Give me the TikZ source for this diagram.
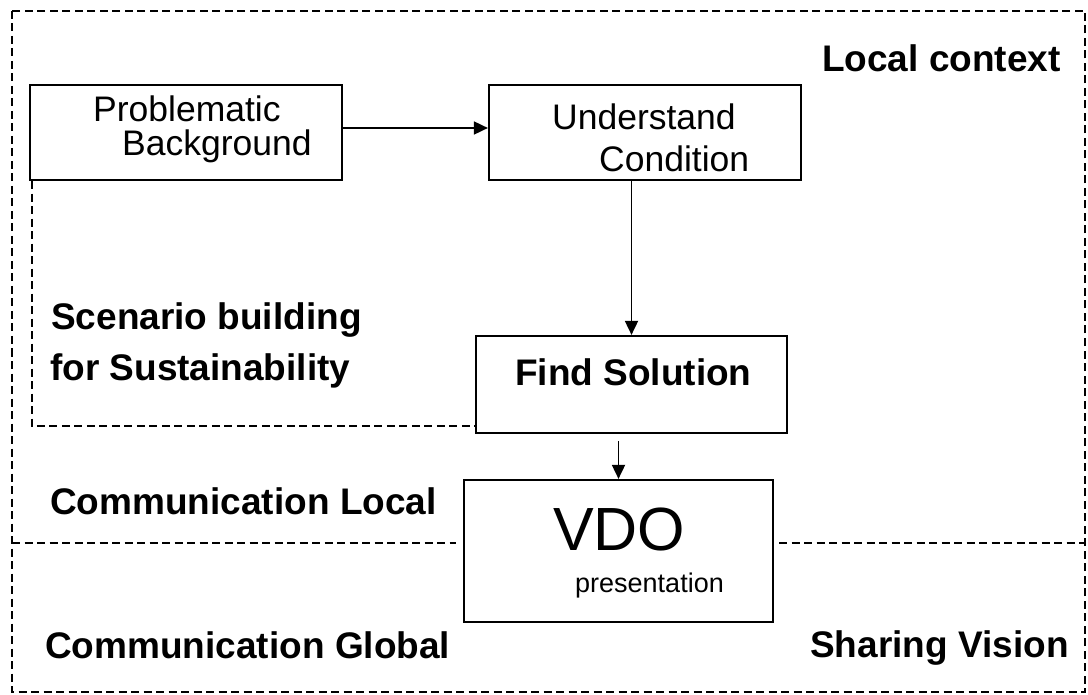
\documentclass[tikz,border=0pt]{standalone}
\usepackage{fontspec}
\setmainfont{Liberation Sans}
\usetikzlibrary{arrows.meta}

\begin{document}
\begin{tikzpicture}[x=1pt,y=-1pt,
  box/.style={draw, line width=2.2pt, rectangle, inner sep=0pt},
  frame/.style={line width=1.8pt, dash pattern=on 8pt off 4.5pt},
  flow/.style={line width=1.8pt, -{Triangle[length=14pt,width=13pt]}},
  boxtext/.style={anchor=base west, inner sep=0pt, font=\fontsize{35.5}{40}\selectfont},
  tag/.style={anchor=base west, inner sep=0pt, font=\bfseries\fontsize{37}{40}\selectfont}
]
\useasboundingbox (0,0) rectangle (1088,695);
\fill[white] (0,0) rectangle (1088,695);

% outer frame and the local/global divider
\coordinate (tl) at (12,11);
\coordinate (br) at (1085,692);
\coordinate (ml) at (12,543);
\coordinate (mr) at (1085,543);
\draw[frame] (tl) rectangle (br);

% process boxes
\node[box, minimum width=312pt, minimum height=95pt] (pb) at (186,132.5) {};
\node[box, minimum width=312pt, minimum height=95pt] (uc) at (645,132.5) {};
\node[box, minimum width=311pt, minimum height=97pt] (fs) at (631.5,384.5) {};
\node[box, minimum width=309pt, minimum height=142pt] (vdo) at (618.5,551) {};

\draw[frame, shorten >=7pt] (ml) -- (ml -| vdo.west);
\draw[frame, shorten <=5pt] (vdo.east |- mr) -- (mr);

% scenario-building region
\draw[frame] ([xshift=3pt]pb.south west) |- ([yshift=8pt]fs.south west);

% flow arrows
\draw[flow] ([yshift=4.5pt]pb.east) -- ([yshift=4.5pt]uc.west);
\draw[flow] (uc.south -| fs.north) -- (fs.north);
\draw[flow, shorten <=7pt] (fs.south -| vdo.north) -- (vdo.north);

% box texts
\node[boxtext] (pbA) at (93,122) {Problematic};
\node[boxtext] (pbB) at (122,156) {Background};
\node[boxtext] (ucA) at (552,130) {Understand};
\node[boxtext] (ucB) at (599,172) {Condition};
\node[tag] (fsT) at (515,385) {Find Solution};
\node[anchor=base west, inner sep=0pt, font=\fontsize{61}{64}\selectfont] (vdoA) at (553,550) {VDO};
\node[anchor=base west, inner sep=0pt, font=\fontsize{27}{30}\selectfont] (vdoB) at (575,592) {presentation};

% region labels
\node[tag] (lc) at (822,72) {Local context};
\node[tag] (sbA) at (51,330) {Scenario building};
\node[tag] (sbB) at (50,380) {for Sustainability};
\node[tag] (cl) at (50,514) {Communication Local};
\node[tag] (cg) at (45,658) {Communication Global};
\node[tag] (sv) at (810,657) {Sharing Vision};
\end{tikzpicture}
\end{document}
